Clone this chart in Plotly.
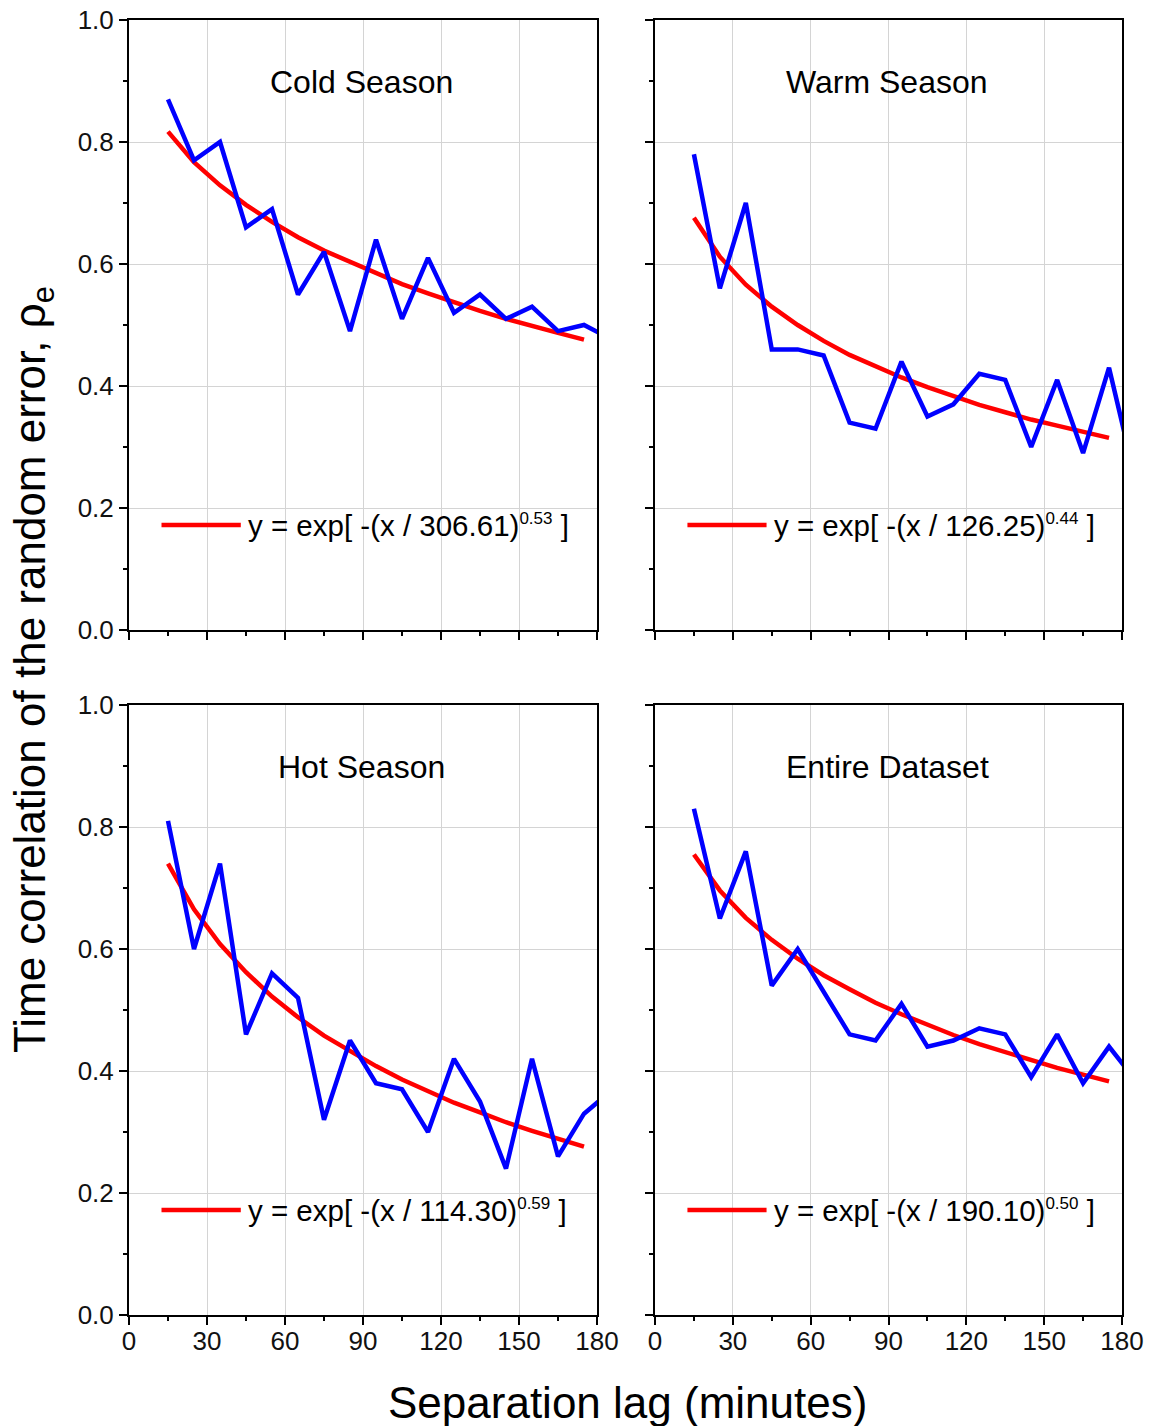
import plotly.graph_objects as go

# ---------------- data ----------------
lag = [15, 25, 35, 45, 55, 65, 75, 85, 95, 105, 115, 125, 135, 145, 155, 165, 175, 185]
fit_lag = [15, 25, 35, 45, 55, 65, 75, 85, 95, 105, 115, 125, 135, 145, 155, 165, 175]

cold_obs = [0.87, 0.77, 0.80, 0.66, 0.69, 0.55, 0.62, 0.49, 0.64, 0.51, 0.61, 0.52, 0.55, 0.51, 0.53, 0.49, 0.50, 0.478]
warm_obs = [0.78, 0.56, 0.70, 0.46, 0.46, 0.45, 0.34, 0.33, 0.44, 0.35, 0.37, 0.42, 0.41, 0.30, 0.41, 0.29, 0.43, 0.25]
hot_obs = [0.81, 0.60, 0.74, 0.46, 0.56, 0.52, 0.32, 0.45, 0.38, 0.37, 0.30, 0.42, 0.35, 0.24, 0.42, 0.26, 0.33, 0.366]
all_obs = [0.83, 0.65, 0.76, 0.54, 0.60, 0.53, 0.46, 0.45, 0.51, 0.44, 0.45, 0.47, 0.46, 0.39, 0.46, 0.38, 0.44, 0.386]

cold_fit = [0.817, 0.767, 0.729, 0.697, 0.669, 0.644, 0.622, 0.603, 0.584, 0.567, 0.552, 0.537, 0.523, 0.510, 0.498, 0.487, 0.476]
warm_fit = [0.676, 0.612, 0.566, 0.530, 0.500, 0.474, 0.451, 0.432, 0.414, 0.398, 0.383, 0.369, 0.357, 0.345, 0.335, 0.325, 0.315]
hot_fit = [0.740, 0.665, 0.608, 0.562, 0.522, 0.488, 0.458, 0.432, 0.408, 0.386, 0.367, 0.348, 0.332, 0.316, 0.302, 0.289, 0.276]
all_fit = [0.755, 0.696, 0.651, 0.615, 0.584, 0.557, 0.534, 0.512, 0.493, 0.476, 0.459, 0.444, 0.431, 0.418, 0.405, 0.394, 0.383]

panel_titles = ["Cold Season", "Warm Season", "Hot Season", "Entire Dataset"]
fit_scales = ["306.61", "126.25", "114.30", "190.10"]
fit_shapes = ["0.53", "0.44", "0.59", "0.50"]
x_ticks = [0, 30, 60, 90, 120, 150, 180]
y_ticks = [0.0, 0.2, 0.4, 0.6, 0.8, 1.0]

obs_series = [cold_obs, warm_obs, hot_obs, all_obs]
fit_series = [cold_fit, warm_fit, hot_fit, all_fit]

# ---------------- layout geometry ----------------
W, H = 1151, 1426
FONT = "Liberation Sans, Arial, sans-serif"

x_doms = [[129 / W, 597 / W], [655 / W, 1122 / W]]
y_doms = [[1 - 630 / H, 1 - 20 / H], [1 - 1315 / H, 1 - 705 / H]]

fig = go.Figure()
layout = dict(
    width=W, height=H, autosize=False,
    margin=dict(l=0, r=0, t=0, b=0, pad=0),
    paper_bgcolor="white", plot_bgcolor="white",
    showlegend=False,
    font=dict(family=FONT, color="black"),
)

annotations = []
shapes = []

for i in range(4):
    row, col = divmod(i, 2)
    n = i + 1
    xa = "xaxis" if n == 1 else f"xaxis{n}"
    ya = "yaxis" if n == 1 else f"yaxis{n}"
    xr = "x" if n == 1 else f"x{n}"
    yr = "y" if n == 1 else f"y{n}"

    fig.add_trace(go.Scatter(x=fit_lag, y=fit_series[i], mode="lines",
                             line=dict(color="#ff0000", width=4.5),
                             xaxis=xr, yaxis=yr, hoverinfo="skip"))
    fig.add_trace(go.Scatter(x=lag, y=obs_series[i], mode="lines",
                             line=dict(color="#0000ff", width=4.5),
                             xaxis=xr, yaxis=yr, hoverinfo="skip"))

    layout[xa] = dict(
        domain=x_doms[col], anchor=yr, range=[0, 180], automargin=False,
        tickvals=x_ticks, ticks="outside", ticklen=8, tickwidth=2, tickcolor="black",
        showticklabels=(row == 1), tickfont=dict(size=26, family=FONT, color="#111"),
        ticklabelstandoff=-6,
        showgrid=True, gridcolor="#d4d4d4", gridwidth=1,
        showline=True, linecolor="black", linewidth=2, mirror=True,
        zeroline=False,
        minor=dict(dtick=15, tick0=0, ticks="outside", ticklen=4, tickwidth=2,
                   tickcolor="black", showgrid=False),
    )
    layout[ya] = dict(
        domain=y_doms[row], anchor=xr, range=[0, 1], automargin=False,
        tickvals=y_ticks, tickformat=".1f", ticks="outside", ticklen=8, tickwidth=2,
        tickcolor="black",
        showticklabels=(col == 0), tickfont=dict(size=26, family=FONT, color="#111"),
        showgrid=True, gridcolor="#d4d4d4", gridwidth=1,
        showline=True, linecolor="black", linewidth=2, mirror=True,
        zeroline=False,
        minor=dict(dtick=0.1, tick0=0, ticks="outside", ticklen=4, tickwidth=2,
                   tickcolor="black", showgrid=False),
    )

    annotations.append(dict(
        text=panel_titles[i], xref=f"{xr} domain", yref=yr, x=0.497, y=0.898,
        xanchor="center", yanchor="middle", showarrow=False,
        font=dict(size=32, family=FONT, color="black"),
    ))
    shapes.append(dict(
        type="line", xref=xr, yref=yr, x0=12.5, x1=43, y0=0.172, y1=0.172,
        line=dict(color="#ff0000", width=4.5),
    ))
    label = ("y = exp[ -(x / " + fit_scales[i] + ")"
             + "<sup><span style='font-size:17px'>" + fit_shapes[i] + "</span></sup>&nbsp;]")
    annotations.append(dict(
        text=label, xref=xr, yref=yr, x=45, y=0.172,
        xanchor="left", yanchor="middle", showarrow=False,
        font=dict(size=29.5, family=FONT, color="black"),
    ))

annotations.append(dict(
    text="Separation lag (minutes)", xref="paper", yref="paper",
    x=627 / W, y=1 - 1402 / H, xanchor="center", yanchor="middle",
    showarrow=False, font=dict(size=44, family=FONT, color="black"),
))
annotations.append(dict(
    text="Time correlation of the random error, ρ<sub>e</sub>", xref="paper", yref="paper",
    x=33 / W, y=1 - 670 / H, xanchor="center", yanchor="middle", textangle=-90,
    showarrow=False, font=dict(size=44, family=FONT, color="black"),
))

layout["annotations"] = annotations
layout["shapes"] = shapes
fig.update_layout(**layout)

fig.write_html("out.html")
